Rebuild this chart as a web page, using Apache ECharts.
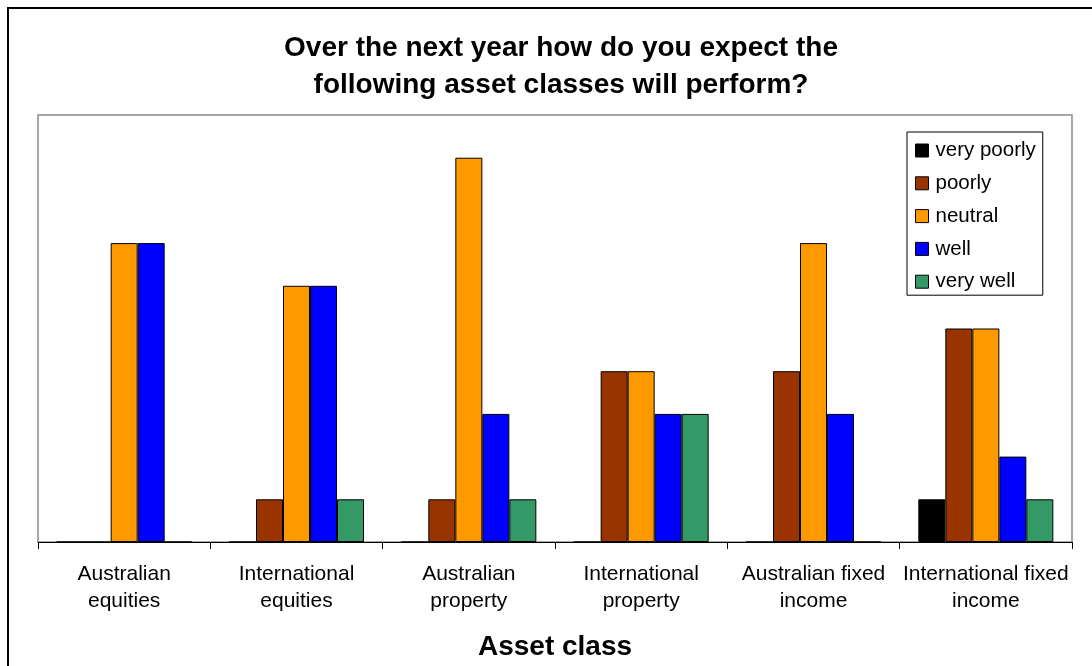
<!DOCTYPE html>
<html>
<head>
<meta charset="utf-8">
<script src="https://cdn.jsdelivr.net/npm/echarts@6/dist/echarts.min.js"></script>
<style>
html,body{margin:0;padding:0;background:#fff;}
#chart{width:1092px;height:666px;}
</style>
</head>
<body>
<div id="chart"></div>
<script>
var categories = ["Australian\nequities", "International\nequities", "Australian\nproperty", "International\nproperty", "Australian fixed\nincome", "International fixed\nincome"];
var seriesNames = ["very poorly", "poorly", "neutral", "well", "very well"];
var veryPoorly = [0, 0, 0, 0, 0, 1];
var poorly     = [0, 1, 1, 4, 4, 5];
var neutral    = [7, 6, 9, 4, 7, 5];
var well       = [7, 6, 3, 3, 3, 2];
var veryWell   = [0, 1, 1, 3, 0, 1];
var colors = ["#000000", "#993300", "#FF9900", "#0000FF", "#339966"];
var titleLines = ["Over the next year how do you expect the", "following asset classes will perform?"];

var values = [veryPoorly, poorly, neutral, well, veryWell];
var font = "Liberation Sans, Arial, sans-serif";

var chart = echarts.init(document.getElementById('chart'), null, {renderer: 'canvas'});
chart.setOption({
  animation: false,
  backgroundColor: '#fff',
  color: colors,
  graphic: [
    {type: 'rect', shape: {x: 8, y: 8, width: 1200, height: 800}, style: {fill: 'none', stroke: '#000', lineWidth: 2}, silent: true},
    {type: 'text', x: 561, y: 48, style: {text: titleLines[0], font: 'bold 28px ' + font, fill: '#000', textAlign: 'center', textVerticalAlign: 'middle'}},
    {type: 'text', x: 561, y: 85, style: {text: titleLines[1], font: 'bold 28px ' + font, fill: '#000', textAlign: 'center', textVerticalAlign: 'middle'}}
  ],
  legend: {
    orient: 'vertical',
    left: 907,
    top: 132,
    padding: [8, 7, 3, 8],
    itemGap: 11.8,
    itemWidth: 13,
    itemHeight: 13,
    icon: 'rect',
    borderColor: '#000',
    borderWidth: 1,
    backgroundColor: '#fff',
    data: seriesNames,
    textStyle: {fontFamily: font, fontSize: 20.5, color: '#000', lineHeight: 20, padding: [0, 0, 0, 2]},
    itemStyle: {borderColor: '#000', borderWidth: 1}
  },
  grid: {
    left: 38, right: 20, top: 115, bottom: 124,
    outerBoundsMode: 'none',
    containLabel: false,
    show: true, borderColor: '#8a8a8a', borderWidth: 1.5, backgroundColor: 'transparent'
  },
  xAxis: {
    type: 'category',
    data: categories,
    boundaryGap: true,
    name: 'Asset class',
    nameLocation: 'middle',
    nameGap: 91,
    nameTextStyle: {fontFamily: font, fontSize: 28, fontWeight: 'bold', color: '#000'},
    axisLine: {show: true, lineStyle: {color: '#000', width: 1}},
    axisTick: {show: true, length: 7, interval: 0, lineStyle: {color: '#000'}},
    axisLabel: {interval: 0, margin: 19, fontFamily: font, fontSize: 21, lineHeight: 27, color: '#000'},
    splitLine: {show: false}
  },
  yAxis: {
    type: 'value',
    min: 0, max: 10, interval: 1,
    show: false,
    splitLine: {show: false}
  },
  series: seriesNames.map(function (n, i) {
    return {
      name: n,
      type: 'bar',
      data: values[i],
      barWidth: 27,
      barGap: '0%',
      itemStyle: {color: colors[i], borderColor: '#000', borderWidth: 1}
    };
  })
});
</script>
</body>
</html>
